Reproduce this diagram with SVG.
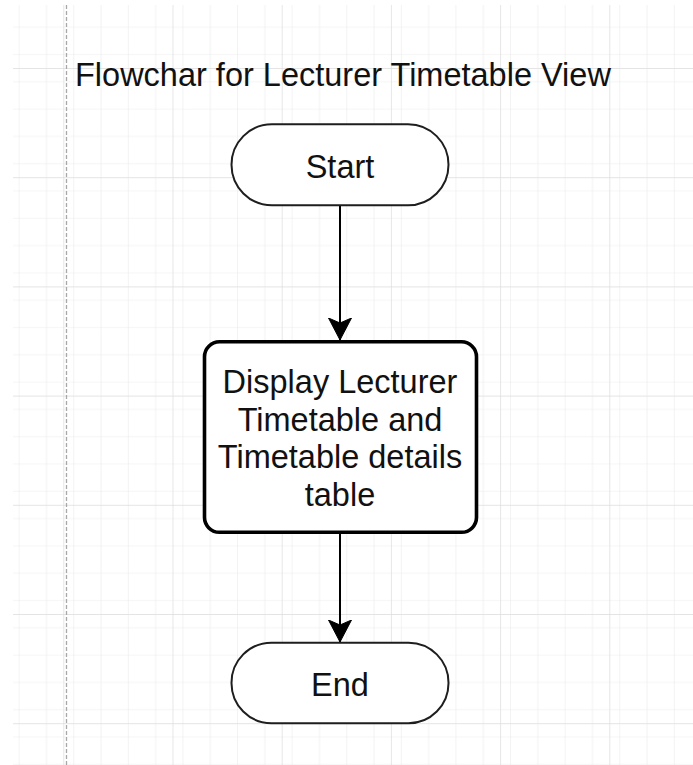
<svg xmlns="http://www.w3.org/2000/svg" width="693" height="765" viewBox="0 0 693 765">
  <defs>
    <!-- background grid: minor cells 27.3px, major every 4 cells -->
    <pattern id="minorGrid" x="10" y="13.3" width="27.3" height="27.3" patternUnits="userSpaceOnUse">
      <path d="M0 0H27.3M0 0V27.3" fill="none" stroke="#eaeaea" stroke-width="1.2"/>
    </pattern>
    <pattern id="majorGrid" x="-45.9" y="68" width="109.2" height="109.2" patternUnits="userSpaceOnUse">
      <rect width="109.2" height="109.2" fill="url(#minorGrid)"/>
      <path d="M0 0H109.2M0 0V109.2" fill="none" stroke="#dcdcdc" stroke-width="1.4"/>
    </pattern>
    <marker id="arrow" viewBox="0 0 24 24" refX="22" refY="12" markerWidth="24" markerHeight="24" markerUnits="userSpaceOnUse" orient="auto">
      <path d="M22 12L0 0.5L5 12L0 23.5Z" fill="#000" stroke="#000" stroke-width="1" stroke-linejoin="miter"/>
    </marker>
    <style>
      .terminal { fill: #fff; stroke: #1e1e1e; stroke-width: 2; }
      .process { fill: #fff; stroke: #000; stroke-width: 3.6; }
      .label { font-family: "Liberation Sans", Arial, sans-serif; font-size: 32.5px; fill: #111; text-anchor: middle; }
      .title { font-family: "Liberation Sans", Arial, sans-serif; font-size: 32.5px; fill: #111; }
      .edge { fill: none; stroke: #000; stroke-width: 2; }
    </style>
  </defs>

  <!-- canvas -->
  <rect width="693" height="765" fill="#fff"/>
  <rect x="13" y="5" width="680" height="760" fill="url(#majorGrid)"/>
  <line x1="66.5" y1="5" x2="66.5" y2="765" stroke="#a8a8a8" stroke-width="1.3" stroke-dasharray="4 2"/>

  <!-- title -->
  <g id="title">
    <text class="title" x="75" y="86">Flowchar for Lecturer Timetable View</text>
  </g>

  <!-- connectors -->
  <g id="connectors">
    <line class="edge" x1="340" y1="206" x2="340" y2="340" marker-end="url(#arrow)"/>
    <line class="edge" x1="340" y1="534" x2="340" y2="642" marker-end="url(#arrow)"/>
  </g>

  <!-- nodes -->
  <g id="start">
    <rect class="terminal" x="231.5" y="124.3" width="217" height="81" rx="40.5" ry="40.5"/>
    <text class="label" x="340" y="177.5">Start</text>
  </g>

  <g id="display">
    <rect class="process" x="204.5" y="341.8" width="272" height="190.5" rx="15" ry="15"/>
    <text class="label" x="340" y="393">Display Lecturer</text>
    <text class="label" x="340" y="430.5">Timetable and</text>
    <text class="label" x="340" y="468">Timetable details</text>
    <text class="label" x="340" y="505.5">table</text>
  </g>

  <g id="end">
    <rect class="terminal" x="231.5" y="642.7" width="217" height="80.5" rx="40" ry="40"/>
    <text class="label" x="340" y="695.5">End</text>
  </g>
</svg>
